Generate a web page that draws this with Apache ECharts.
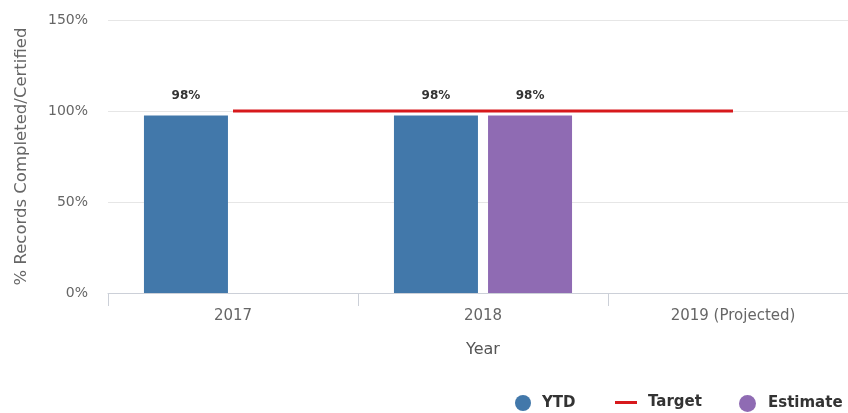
<!DOCTYPE html>
<html>
<head>
<meta charset="utf-8">
<script src="https://cdn.jsdelivr.net/npm/echarts@6/dist/echarts.min.js"></script>
<style>
  html, body { margin: 0; padding: 0; background: #fff; overflow: hidden; }
  #wrap { width: 848px; height: 413px; overflow: hidden; }
  /* plot area runs slightly past the right edge of the page */
  #chart { width: 858px; height: 413px; }
</style>
</head>
<body>
<div id="wrap"><div id="chart"></div></div>
<script>
// Records completed/certified by year
const years = ['2017', '2018', '2019 (Projected)'];
const ytd = [97.5, 97.5, null];
const estimate = [null, 97.5, null];
const target = [100, 100, 100];
const yTicks = [0, 50, 100, 150];

const FONT = '"DejaVu Sans", Verdana, sans-serif';
const pct = v => Math.round(v) + '%';

const chart = echarts.init(document.getElementById('chart'), null, { renderer: 'canvas' });

const legendBase = {
  top: 395,
  itemHeight: 16,
  itemWidth: 16,
  itemGap: 0,
  padding: 0,
  textStyle: { fontFamily: FONT, fontSize: 15, fontWeight: 'bold', color: '#333', padding: [0, 0, 0, 6] },
  selectedMode: false
};

const barLabel = {
  show: true, position: 'top', distance: 14,
  formatter: p => pct(p.value),
  fontFamily: FONT, fontSize: 12, fontWeight: 'bold', color: '#333'
};

chart.setOption({
  animation: false,
  textStyle: { fontFamily: FONT },
  grid: { left: 108, right: 0, top: 20, bottom: 120 },
  legend: [
    Object.assign({}, legendBase, { left: 515, data: [{ name: 'YTD', icon: 'circle' }] }),
    Object.assign({}, legendBase, { left: 615, itemWidth: 22, itemHeight: 3, data: [{ name: 'Target', icon: 'rect' }] }),
    Object.assign({}, legendBase, {
      left: 739, itemWidth: 17, itemHeight: 17,
      textStyle: Object.assign({}, legendBase.textStyle, { padding: [0, 0, 0, 7] }),
      data: [{ name: 'Estimate', icon: 'circle' }]
    })
  ],
  xAxis: {
    type: 'category',
    data: years,
    name: 'Year',
    nameLocation: 'middle',
    nameGap: 49,
    nameTextStyle: { fontFamily: FONT, fontSize: 16, color: '#555' },
    axisLine: { lineStyle: { color: '#ccd0d8', width: 1 } },
    axisTick: { show: true, length: 13, lineStyle: { color: '#ccd0d8' } },
    axisLabel: { fontFamily: FONT, fontSize: 15, color: '#666', margin: 16 }
  },
  yAxis: {
    type: 'value',
    min: yTicks[0],
    max: yTicks[yTicks.length - 1],
    interval: 50,
    name: '% Records Completed/Certified',
    nameLocation: 'middle',
    nameGap: 78,
    nameTextStyle: { fontFamily: FONT, fontSize: 16.5, color: '#666' },
    axisLine: { show: false },
    axisTick: { show: false },
    axisLabel: { fontFamily: FONT, fontSize: 14, color: '#666', margin: 20, formatter: v => v + '%' },
    splitLine: { lineStyle: { color: '#e6e6e6' } }
  },
  series: [
    {
      name: 'YTD',
      type: 'bar',
      data: ytd,
      barWidth: 84,
      barGap: '12%',
      itemStyle: { color: '#4278aa' },
      label: barLabel
    },
    {
      name: 'Target',
      type: 'line',
      data: target,
      symbol: 'none',
      z: 3,
      lineStyle: { color: '#d7191c', width: 3 },
      itemStyle: { color: '#d7191c' }
    },
    {
      name: 'Estimate',
      type: 'bar',
      data: estimate,
      barWidth: 84,
      barGap: '12%',
      itemStyle: { color: '#8f6bb3' },
      label: barLabel
    }
  ]
});
</script>
</body>
</html>
